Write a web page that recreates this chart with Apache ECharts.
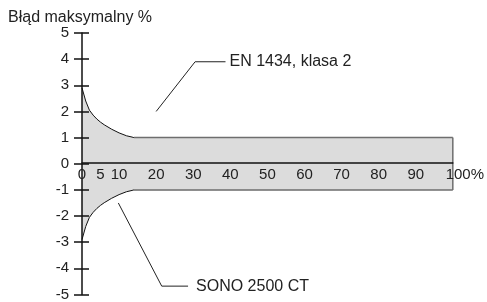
<!DOCTYPE html>
<html>
<head>
<meta charset="utf-8">
<script src="https://cdn.jsdelivr.net/npm/echarts@6/dist/echarts.min.js"></script>
<style>
  html, body { margin: 0; padding: 0; background: #fff; }
  #chart { width: 487px; height: 302px; }
</style>
</head>
<body>
<div id="chart"></div>
<script>
// error curve (upper half, mirrored for lower)
const curveX = [0, 1, 2, 3, 4, 5, 6, 8, 10, 12, 13.5, 14];
const curveY = [2.9, 2.4, 2.05, 1.86, 1.71, 1.59, 1.49, 1.32, 1.18, 1.07, 1.02, 1.0];
const flatX = [14, 100];
const flatY = [1, 1];
const xTicks = [0, 5, 10, 20, 30, 40, 50, 60, 70, 80, 90, 100];
const yTicks = [-5, -4, -3, -2, -1, 0, 1, 2, 3, 4, 5];
const labelEN = 'EN 1434, klasa 2';
const labelSONO = 'SONO 2500 CT';
const leaderEN = [[20, 2.0], [30.5, 3.9], [38.7, 3.9]];
const leaderSONO = [[9.8, -1.5], [21.5, -4.68], [28.6, -4.68]];

const font = 'Liberation Sans, Arial, sans-serif';
const fill = '#dcdcdc';

function pairs(xs, ys, sign) {
    return xs.map((x, i) => [x, sign * ys[i]]);
}

const bandX = curveX.concat(flatX.slice(1));
const bandY = curveY.concat(flatY.slice(1));

function stroke(data, color, width) {
    return {
        type: 'line', symbol: 'none', z: 4, data: data,
        lineStyle: { color: color, width: width }
    };
}

function area(data) {
    return {
        type: 'line', symbol: 'none', z: 2, data: data,
        lineStyle: { width: 0 },
        areaStyle: { color: fill, opacity: 1 }
    };
}

const chart = echarts.init(document.getElementById('chart'));

// grid is 264px tall, y from -5..5, so the zero line sits 132px above the bottom edge
const option = {
    animation: false,
    title: {
        text: 'Błąd maksymalny %',
        left: 3,
        top: 5,
        textStyle: { fontFamily: font, fontSize: 16, fontWeight: 'normal', color: '#222' }
    },
    grid: { left: 82, right: 28, top: 33, bottom: 5 },
    xAxis: {
        type: 'value',
        min: 0,
        max: 100,
        z: 5,
        offset: -132,
        splitLine: { show: false },
        axisTick: { show: false },
        axisLine: { onZero: false, lineStyle: { color: '#111', width: 1.5 } },
        axisLabel: {
            customValues: xTicks,
            margin: 5,
            fontFamily: font,
            fontSize: 15,
            color: '#222',
            formatter: v => v === 100 ? '{p|100%}' : String(v),
            rich: { p: { fontFamily: font, fontSize: 15, color: '#222', padding: [0, 0, 0, 24] } }
        }
    },
    yAxis: [{
        type: 'value',
        min: -5,
        max: 5,
        interval: 1,
        z: 5,
        splitLine: { show: false },
        axisLine: { show: true, onZero: false, lineStyle: { color: '#111', width: 1.5 } },
        axisTick: { show: true, length: 8, lineStyle: { color: '#111', width: 1.5 } },
        axisLabel: {
            margin: 13,
            fontFamily: font,
            fontSize: 15,
            color: '#222',
            customValues: yTicks
        }
    }, {
        type: 'value',
        position: 'left',
        min: -5,
        max: 5,
        interval: 1,
        z: 5,
        splitLine: { show: false },
        axisLine: { show: false, onZero: false },
        axisTick: { show: true, inside: true, length: 7, lineStyle: { color: '#111', width: 1.5 } },
        axisLabel: { show: false }
    }],
    series: [
        area(pairs(bandX, bandY, 1)),
        area(pairs(bandX, bandY, -1)),
        stroke(pairs(curveX, curveY, 1), '#111', 1),
        stroke(pairs(curveX, curveY, -1), '#111', 1),
        stroke(pairs(flatX, flatY, 1), '#6e6e6e', 1.5),
        stroke(pairs(flatX, flatY, -1), '#6e6e6e', 1.5),
        stroke([[100, 1], [100, -1]], '#6e6e6e', 1.5),
        {
            type: 'line', symbol: 'none', z: 4,
            data: leaderEN,
            lineStyle: { color: '#222', width: 1 },
            endLabel: {
                show: true, formatter: labelEN, distance: 4,
                fontFamily: font, fontSize: 16, color: '#222'
            }
        },
        {
            type: 'line', symbol: 'none', z: 4,
            data: leaderSONO,
            lineStyle: { color: '#222', width: 1 },
            endLabel: {
                show: true, formatter: labelSONO, distance: 8,
                fontFamily: font, fontSize: 16, color: '#222'
            }
        }
    ]
};

chart.setOption(option);
</script>
</body>
</html>
